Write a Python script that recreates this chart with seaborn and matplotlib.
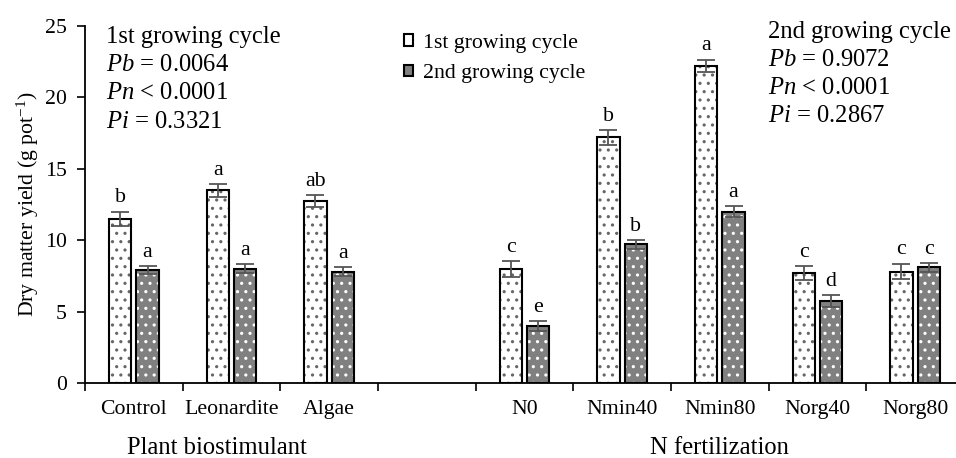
import numpy as np
import pandas as pd
import seaborn as sns
import matplotlib
matplotlib.use("Agg")
import matplotlib.pyplot as plt
from matplotlib.patches import Rectangle, Patch
from matplotlib.transforms import blended_transform_factory

# categories (blank slot separates the two factors)
order = ["Control", "Leonardite", "Algae", "", "N0", "Nmin40", "Nmin80", "Norg40", "Norg80"]
treatments = ["Control", "Leonardite", "Algae", "N0", "Nmin40", "Nmin80", "Norg40", "Norg80"]
cycles = ["1st growing cycle", "2nd growing cycle"]

# means and standard errors
yield_1st = [11.5, 13.5, 12.75, 8.0, 17.2, 22.2, 7.7, 7.8]
yield_2nd = [7.9, 8.0, 7.8, 4.0, 9.7, 12.0, 5.75, 8.1]
err_1st = [0.5, 0.45, 0.4, 0.55, 0.5, 0.45, 0.5, 0.55]
err_2nd = [0.3, 0.3, 0.3, 0.35, 0.3, 0.4, 0.4, 0.3]
letters_1st = ["b", "a", "ab", "c", "b", "a", "c", "c"]
letters_2nd = ["a", "a", "a", "e", "b", "a", "d", "c"]

df = pd.DataFrame({
    "treatment": treatments * 2,
    "cycle": [cycles[0]] * 8 + [cycles[1]] * 8,
    "yield": yield_1st + yield_2nd,
    "err": err_1st + err_2nd,
    "letter": letters_1st + letters_2nd,
})

plt.rcParams["font.family"] = ["Liberation Serif", "DejaVu Serif"]
plt.rcParams["mathtext.fontset"] = "custom"
plt.rcParams["mathtext.rm"] = "Liberation Serif"
plt.rcParams["mathtext.it"] = "Liberation Serif:italic"
plt.rcParams["hatch.linewidth"] = 1.1
fs = 15.7      # ticks, legend, letters
fs_big = 17.7  # stats blocks and group labels

fig = plt.figure(figsize=(9.56, 4.58), dpi=100)
ax = fig.add_axes([85 / 956, 75 / 458, 879 / 956, 357 / 458])

sns.barplot(data=df, x="treatment", y="yield", hue="cycle", order=order,
            hue_order=cycles, palette=["white", "#808080"], width=0.56, gap=0.18,
            errorbar=None, legend=False, ax=ax)

# hatch + outline, error bars and letters
for p in list(ax.patches):
    if p.get_height() <= 0:
        continue
    xc = p.get_x() + p.get_width() / 2
    cat = int(round(xc))
    second = xc > cat
    row = df[(df.treatment == order[cat]) & (df.cycle == cycles[int(second)])].iloc[0]
    p.set_hatch("..")
    p.set_edgecolor("white" if second else "#666666")
    p.set_linewidth(0)
    ax.add_patch(Rectangle(p.get_xy(), p.get_width(), p.get_height(), fill=False,
                           edgecolor="black", lw=1.5, zorder=p.get_zorder() + 0.1))
    ax.errorbar(xc, row["yield"], yerr=row["err"], color="#555555", lw=1.3,
                capsize=6.5, capthick=1.3, zorder=4)
    ax.text(xc, row["yield"] + row["err"] + 0.65, row["letter"], ha="center",
            va="baseline", fontsize=fs)

ax.set_xlim(-0.5, 8.5)
ax.set_ylim(0, 25)
ax.set_yticks([0, 5, 10, 15, 20, 25])
ax.set_xticks(range(len(order)))
ax.set_xticklabels(order)
ax.set_xticks(np.arange(-0.5, 9.0, 1.0), minor=True)
ax.tick_params(axis="x", which="major", length=0, pad=12, labelsize=fs)
ax.tick_params(axis="x", which="minor", length=6, width=1.2, direction="out")
ax.tick_params(axis="y", length=6, width=1.2, pad=7, labelsize=fs)
for s in ["top", "right"]:
    ax.spines[s].set_visible(False)
for s in ["left", "bottom"]:
    ax.spines[s].set_linewidth(1.3)
ax.set_xlabel("")
ax.set_ylabel("Dry matter yield (g pot$^{-1}$)", fontsize=fs, labelpad=3)

trans = blended_transform_factory(ax.transData, ax.transAxes)
ax.text(0.85, -0.182, "Plant biostimulant", transform=trans, ha="center", va="center", fontsize=fs_big)
ax.text(6.0, -0.182, "N fertilization", transform=trans, ha="center", va="center", fontsize=fs_big)

left_block = ["1st growing cycle", r"$Pb$ = 0.0064", r"$Pn$ < 0.0001", r"$Pi$ = 0.3321"]
right_block = ["2nd growing cycle", r"$Pb$ = 0.9072", r"$Pn$ < 0.0001", r"$Pi$ = 0.2867"]
for i, line in enumerate(left_block):
    ax.text(0.024, 0.9524 - i * 0.0790, line, transform=ax.transAxes, ha="left",
            va="baseline", fontsize=fs_big)
for i, line in enumerate(right_block):
    ax.text(0.777, 0.966 - i * 0.0784, line, transform=ax.transAxes, ha="left",
            va="baseline", fontsize=fs_big)

handles = [Patch(facecolor="white", edgecolor="black", lw=1.5),
           Patch(facecolor="#808080", edgecolor="black", lw=1.5)]
ax.legend(handles, cycles, loc="upper left", bbox_to_anchor=(0.363, 0.978),
          frameon=False, borderpad=0, borderaxespad=0, handlelength=0.42,
          handleheight=0.42, handletextpad=0.45, labelspacing=0.53, fontsize=fs)

fig.savefig("out.png", dpi=100)
